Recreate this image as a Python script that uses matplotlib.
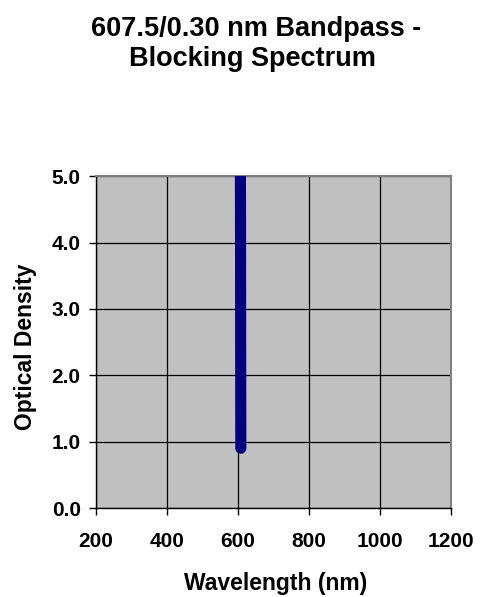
import matplotlib.pyplot as plt

plt.rcParams['font.family'] = ['Liberation Sans', 'DejaVu Sans']

# blocking spectrum
wavelength = [606.8, 607.2, 607.5, 607.8, 608.0]
optical_density = [5.0, 4.0, 2.5, 1.4, 0.9]

x_ticks = [200, 400, 600, 800, 1000, 1200]
y_ticks = [0.0, 1.0, 2.0, 3.0, 4.0, 5.0]

fig = plt.figure(figsize=(4.81, 5.97), dpi=100)
ax = fig.add_axes([0.1996, 0.149, 0.7380, 0.556])
ax.set_facecolor('#C0C0C0')

ax.plot(wavelength, optical_density, color='#000080', lw=8,
        solid_capstyle='round', zorder=3)

ax.set_xlim(200, 1200)
ax.set_ylim(0, 5)
ax.set_xticks(x_ticks)
ax.set_yticks(y_ticks)
ax.set_xticklabels([str(t) for t in x_ticks])
ax.set_yticklabels([f'{t:.1f}' for t in y_ticks])
ax.grid(True, color='black', lw=0.9, zorder=1)
ax.set_axisbelow(True)

for side in ('top', 'right'):
    ax.spines[side].set_color('#808080')
    ax.spines[side].set_linewidth(1.5)
for side in ('left', 'bottom'):
    ax.spines[side].set_color('black')
    ax.spines[side].set_linewidth(1.0)

ax.tick_params(direction='out', length=5, width=1, labelsize=15)
ax.tick_params(axis='x', pad=12)
ax.tick_params(axis='y', pad=6)
for lbl in ax.get_xticklabels() + ax.get_yticklabels():
    lbl.set_fontweight('bold')

fig.text(0.572, 0.023, 'Wavelength (nm)', ha='center', va='center',
         fontsize=16.5, fontweight='bold')
fig.text(0.052, 0.419, 'Optical Density', ha='center', va='center',
         rotation=90, fontsize=16.5, fontweight='bold')

fig.text(0.532, 0.952, '607.5/0.30 nm Bandpass -', ha='center',
         va='center', fontsize=19.5, fontweight='bold')
fig.text(0.525, 0.901, 'Blocking Spectrum', ha='center',
         va='center', fontsize=19.5, fontweight='bold')

fig.savefig('out.png', dpi=100)
plt.close(fig)
